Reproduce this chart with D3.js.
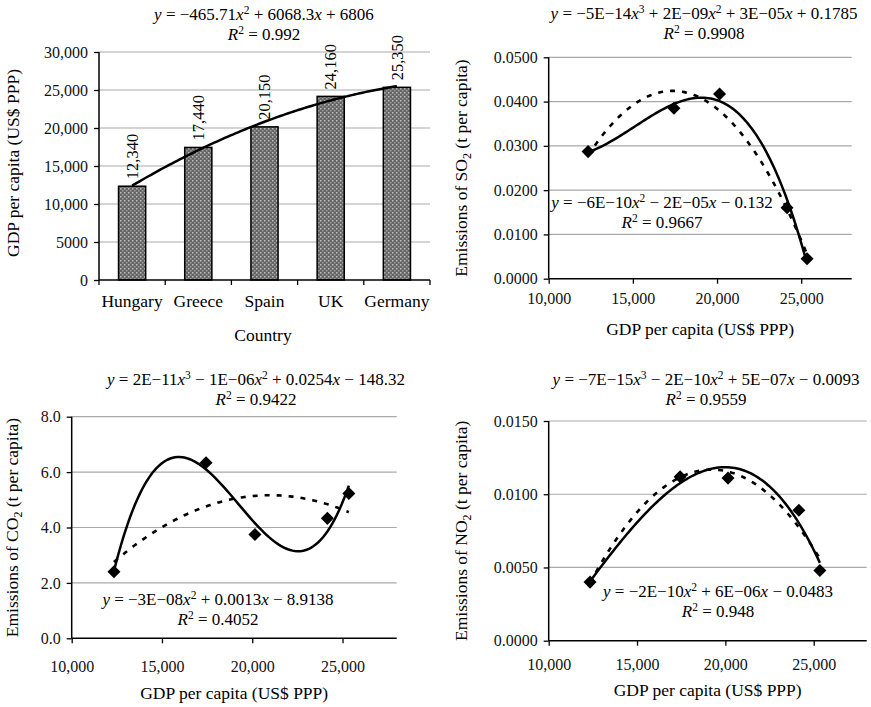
<!DOCTYPE html>
<html>
<head>
<meta charset="utf-8">
<script src="https://cdn.jsdelivr.net/npm/d3@7"></script>
<style>
  body { margin: 0; background: #fff; }
</style>
</head>
<body>
<div class="chart"></div>
<script>
// data
var countries = ["Hungary", "Greece", "Spain", "UK", "Germany"];
var gdp = [12340, 17440, 20150, 24160, 25350];
var so2 = [0.0287, 0.0385, 0.0417, 0.0160, 0.0045];
var co2 = [2.40, 6.34, 3.75, 4.33, 5.23];
var no2 = [0.0040, 0.0112, 0.0111, 0.0089, 0.0048];

var gdpTicks = [0, 5000, 10000, 15000, 20000, 25000, 30000];
var xTicks = [10000, 15000, 20000, 25000];
var so2Ticks = [0, 0.01, 0.02, 0.03, 0.04, 0.05];
var co2Ticks = [0, 2, 4, 6, 8];
var no2Ticks = [0, 0.005, 0.01, 0.015];

var FONT = "'Liberation Serif', Tinos, 'DejaVu Serif', 'Noto Serif', serif";
var width = 871, height = 707;

var svg = d3.select(".chart").append("svg")
    .attr("width", width)
    .attr("height", height)
    .style("font-family", FONT);

var defs = svg.append("defs");
var pat = defs.append("pattern")
    .attr("id", "hatch")
    .attr("patternUnits", "userSpaceOnUse")
    .attr("width", 4).attr("height", 4);
pat.append("rect").attr("width", 4).attr("height", 4).attr("fill", "#666");
pat.append("rect").attr("x", 0).attr("y", 0).attr("width", 1.5).attr("height", 1.5).attr("fill", "#bdbdbd");
pat.append("rect").attr("x", 2).attr("y", 2).attr("width", 1.5).attr("height", 1.5).attr("fill", "#9c9c9c");

var numFmt = function(d) { return d >= 10000 ? d3.format(",")(d) : String(d); };

/************* least squares polynomial (trendline) ***************/
function polyFit(xs, ys, order) {
    var n = order + 1, A = [], b = [];
    for (var i = 0; i < n; i++) {
        A.push([]);
        for (var j = 0; j < n; j++) {
            A[i].push(d3.sum(xs, x => Math.pow(x, i + j)));
        }
        b.push(d3.sum(xs, (x, k) => ys[k] * Math.pow(x, i)));
    }
    // gauss elimination
    for (var c = 0; c < n; c++) {
        var p = c;
        for (var r = c + 1; r < n; r++) if (Math.abs(A[r][c]) > Math.abs(A[p][c])) p = r;
        [A[c], A[p]] = [A[p], A[c]]; [b[c], b[p]] = [b[p], b[c]];
        for (var r = c + 1; r < n; r++) {
            var f = A[r][c] / A[c][c];
            for (var k = c; k < n; k++) A[r][k] -= f * A[c][k];
            b[r] -= f * b[c];
        }
    }
    var coef = new Array(n).fill(0);
    for (var r = n - 1; r >= 0; r--) {
        var s = b[r];
        for (var k = r + 1; k < n; k++) s -= A[r][k] * coef[k];
        coef[r] = s / A[r][r];
    }
    return function(x) { return d3.sum(coef, (cf, i) => cf * Math.pow(x, i)); };
}

function trendPoints(xs, ys, order, scaleBy) {
    var f = polyFit(xs.map(x => x / scaleBy), ys, order);
    var lo = d3.min(xs), hi = d3.max(xs);
    return d3.range(0, 101).map(function(i) {
        var x = lo + (hi - lo) * i / 100;
        return [x, f(x / scaleBy)];
    });
}

// equation text with italic letters, superscripts
function equation(g, x, y, parts) {
    var t = g.append("text").attr("x", x).attr("y", y)
        .attr("text-anchor", "middle").style("font-size", "17px").style("font-family", FONT);
    parts.forEach(function(p) {
        var s = t.append("tspan").text(p[0]);
        if (p[1] == "i") s.style("font-style", "italic");
        if (p[1] == "sup") s.attr("dy", -6).style("font-size", "11.5px");
        if (p[1] == "after") s.attr("dy", 6);
    });
}

function yTitle(g, x, y, pre, sub, post) {
    var t = g.append("text")
        .attr("transform", "translate(" + x + "," + y + ") rotate(-90)")
        .attr("text-anchor", "middle").style("font-size", "17.5px").style("font-family", FONT);
    t.append("tspan").text(pre);
    if (sub) {
        t.append("tspan").text(sub).attr("dy", 4).style("font-size", "12px");
        t.append("tspan").text(post).attr("dy", -4);
    }
}

function gridAndAxes(g, xs, ys, yTickVals, yFmt) {
    var x0 = xs.range()[0], x1 = xs.range()[1];
    g.append("g").selectAll("line")
        .data(yTickVals.slice(1))
        .enter().append("line")
            .attr("x1", x0).attr("x2", x1)
            .attr("y1", d => ys(d)).attr("y2", d => ys(d))
            .attr("stroke", "#a9a9a9").attr("stroke-width", 1.2);

    var ya = g.append("g").attr("transform", "translate(" + x0 + ",0)")
        .call(d3.axisLeft(ys).tickValues(yTickVals).tickFormat(yFmt).tickSize(5).tickPadding(6));
    ya.attr("font-family", null);
    ya.select(".domain").attr("stroke", "#000").attr("stroke-width", 1.5).attr("d", "M0," + ys.range()[0] + "V" + ys.range()[1]);
    ya.selectAll("line").attr("stroke", "#000").attr("stroke-width", 1.3);
    ya.selectAll("text").style("font-size", "16px").style("font-family", FONT).attr("fill", "#111");
    return ya;
}

/************* Panel 1 : GDP bars ***************/
(function() {
    var g = svg.append("g");
    var xb = d3.scaleBand().domain(countries).range([99, 430]).paddingInner(0.59).paddingOuter(0.295);
    var ys = d3.scaleLinear().domain([0, 30000]).range([280, 52]);
    var xs = d3.scaleLinear().domain([0, 1]).range([99, 430]);

    gridAndAxes(g, xs, ys, gdpTicks, numFmt);

    g.selectAll("rect.bar")
        .data(countries)
        .enter().append("rect")
            .attr("class", "bar")
            .attr("x", d => xb(d))
            .attr("width", xb.bandwidth())
            .attr("y", (d, i) => ys(gdp[i]))
            .attr("height", (d, i) => ys(0) - ys(gdp[i]))
            .attr("fill", "url(#hatch)")
            .attr("stroke", "#000").attr("stroke-width", 1.5);

    // x axis with ticks between categories
    var step = (430 - 99) / countries.length;
    var xa = g.append("g").attr("transform", "translate(0,280)");
    xa.append("line").attr("x1", 99).attr("x2", 430).attr("stroke", "#000").attr("stroke-width", 1.5);
    xa.selectAll("line.tk").data(d3.range(countries.length + 1))
        .enter().append("line").attr("class", "tk")
            .attr("x1", d => 99 + d * step).attr("x2", d => 99 + d * step)
            .attr("y1", 0).attr("y2", 5).attr("stroke", "#000").attr("stroke-width", 1.3);
    xa.selectAll("text").data(countries)
        .enter().append("text")
            .attr("x", d => xb(d) + xb.bandwidth() / 2)
            .attr("y", 27)
            .attr("text-anchor", "middle")
            .style("font-size", "17.5px").style("font-family", FONT)
            .text(d => d);

    // value labels
    g.selectAll("text.val").data(countries)
        .enter().append("text").attr("class", "val")
            .attr("transform", (d, i) => "translate(" + (xb(d) + xb.bandwidth() / 2) + "," + (ys(gdp[i]) - 7) + ") rotate(-90)")
            .attr("dy", "0.35em")
            .style("font-size", "16.5px").style("font-family", FONT)
            .text((d, i) => d3.format(",")(gdp[i]));

    // quadratic trendline over category index
    var idx = d3.scaleLinear().domain([1, countries.length])
        .range([xb(countries[0]) + xb.bandwidth() / 2, xb(countries[countries.length - 1]) + xb.bandwidth() / 2]);
    var pts = trendPoints(d3.range(1, 6), gdp, 2, 1);
    g.append("path")
        .datum(pts)
        .attr("fill", "none").attr("stroke", "#000").attr("stroke-width", 2.5)
        .attr("d", d3.line().x(d => idx(d[0])).y(d => ys(d[1])));

    equation(g, 264, 20, [["y", "i"], [" = \u2212465.71"], ["x", "i"], ["2", "sup"], [" + 6068.3", "after"], ["x", "i"], [" + 6806"]]);
    equation(g, 264, 40, [["R", "i"], ["2", "sup"], [" = 0.992", "after"]]);

    yTitle(g, 19, 163, "GDP per capita (US$ PPP)");
    g.append("text").attr("x", 263).attr("y", 341).attr("text-anchor", "middle")
        .style("font-size", "17.5px").style("font-family", FONT).text("Country");
})();

/************* Scatter panels ***************/
function scatterPanel(o) {
    var g = svg.append("g");
    var xs = d3.scaleLinear().domain([10000, 28000]).range(o.xr);
    var ys = d3.scaleLinear().domain(o.yDomain).range(o.yr);

    gridAndAxes(g, xs, ys, o.yTicks, o.yFmt);

    var xa = g.append("g").attr("transform", "translate(0," + o.yr[0] + ")")
        .call(d3.axisBottom(xs).tickValues(xTicks).tickFormat(numFmt).tickSize(5).tickPadding(o.xPad));
    xa.attr("font-family", null);
    xa.select(".domain").attr("stroke", "#000").attr("stroke-width", 1.5).attr("d", "M" + o.xr[0] + ",0H" + o.xr[1]);
    xa.selectAll("line").attr("stroke", "#000").attr("stroke-width", 1.3);
    xa.selectAll("text").style("font-size", "16px").style("font-family", FONT).attr("fill", "#111");

    var line = d3.line().x(d => xs(d[0])).y(d => ys(d[1]));

    g.append("path")
        .datum(trendPoints(gdp, o.values, 2, 10000))
        .attr("fill", "none").attr("stroke", "#000").attr("stroke-width", 2.6)
        .attr("stroke-dasharray", "5,7")
        .attr("d", line);
    g.append("path")
        .datum(trendPoints(gdp, o.values, 3, 10000))
        .attr("fill", "none").attr("stroke", "#000").attr("stroke-width", 2.5)
        .attr("d", line);

    g.selectAll("path.pt").data(o.values)
        .enter().append("path").attr("class", "pt")
            .attr("transform", (d, i) => "translate(" + xs(gdp[i]) + "," + ys(d) + ") rotate(45)")
            .attr("d", d3.symbol().type(d3.symbolSquare).size(85))
            .attr("fill", "#000");

    equation(g, o.eq1[0], o.eq1[1], o.eq1Parts);
    equation(g, o.eq1[0], o.eq1[1] + 20, [["R", "i"], ["2", "sup"], [" = " + o.r1, "after"]]);
    equation(g, o.eq2[0], o.eq2[1], o.eq2Parts);
    equation(g, o.eq2[0], o.eq2[1] + 20, [["R", "i"], ["2", "sup"], [" = " + o.r2, "after"]]);

    yTitle(g, o.yTitleX, (o.yr[0] + o.yr[1]) / 2, "Emissions of " + o.gas[0], o.gas[1], " (t per capita)");
    g.append("text").attr("x", (o.xr[0] + o.xr[1]) / 2).attr("y", o.xTitleY)
        .attr("text-anchor", "middle").style("font-size", "17.5px").style("font-family", FONT)
        .text("GDP per capita (US$ PPP)");
}

scatterPanel({
    values: so2, xr: [548.7, 851.7], yr: [278.7, 57.3], yDomain: [0, 0.05],
    yTicks: so2Ticks, yFmt: d3.format(".4f"), xPad: 9, xTitleY: 335,
    gas: ["SO", "2"], yTitleX: 467,
    eq1: [704, 19], r1: "0.9908",
    eq1Parts: [["y", "i"], [" = \u22125E\u221214"], ["x", "i"], ["3", "sup"], [" + 2E\u221209", "after"], ["x", "i"], ["2", "sup"], [" + 3E\u221205", "after"], ["x", "i"], [" + 0.1785"]],
    eq2: [662, 208], r2: "0.9667",
    eq2Parts: [["y", "i"], [" = \u22126E\u221210"], ["x", "i"], ["2", "sup"], [" \u2212 2E\u221205", "after"], ["x", "i"], [" \u2212 0.132"]]
});

scatterPanel({
    values: co2, xr: [71.7, 396.7], yr: [638.3, 416.7], yDomain: [0, 8],
    yTicks: co2Ticks, yFmt: d3.format(".1f"), xPad: 17, xTitleY: 699,
    gas: ["CO", "2"], yTitleX: 18,
    eq1: [256, 385], r1: "0.9422",
    eq1Parts: [["y", "i"], [" = 2E\u221211"], ["x", "i"], ["3", "sup"], [" \u2212 1E\u221206", "after"], ["x", "i"], ["2", "sup"], [" + 0.0254", "after"], ["x", "i"], [" \u2212 148.32"]],
    eq2: [218, 605], r2: "0.4052",
    eq2Parts: [["y", "i"], [" = \u22123E\u221208"], ["x", "i"], ["2", "sup"], [" + 0.0013", "after"], ["x", "i"], [" \u2212 8.9138"]]
});

scatterPanel({
    values: no2, xr: [548.7, 866.7], yr: [640.7, 421], yDomain: [0, 0.015],
    yTicks: no2Ticks, yFmt: d3.format(".4f"), xPad: 13, xTitleY: 696,
    gas: ["NO", "2"], yTitleX: 467,
    eq1: [706, 385], r1: "0.9559",
    eq1Parts: [["y", "i"], [" = \u22127E\u221215"], ["x", "i"], ["3", "sup"], [" \u2212 2E\u221210", "after"], ["x", "i"], ["2", "sup"], [" + 5E\u221207", "after"], ["x", "i"], [" \u2212 0.0093"]],
    eq2: [718, 597], r2: "0.948",
    eq2Parts: [["y", "i"], [" = \u22122E\u221210"], ["x", "i"], ["2", "sup"], [" + 6E\u221206", "after"], ["x", "i"], [" \u2212 0.0483"]]
});
</script>
</body>
</html>
